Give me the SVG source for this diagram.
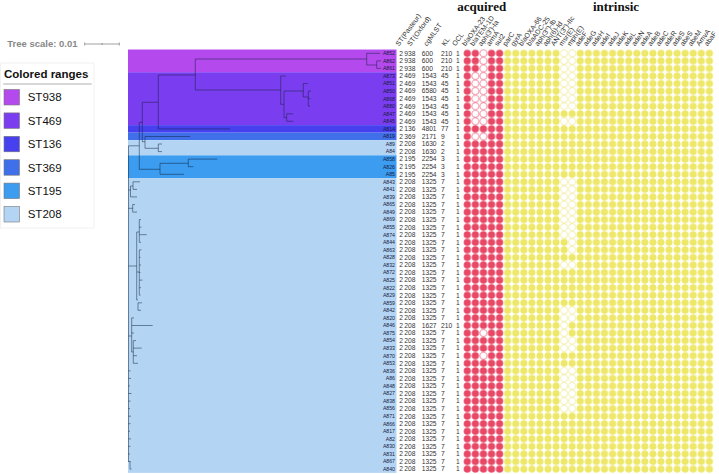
<svg xmlns="http://www.w3.org/2000/svg" width="719" height="474" viewBox="0 0 719 474">
<style>
text{font-family:"Liberation Sans",Arial,sans-serif}
.v{font-size:6.7px;fill:#333}
.lb{font-size:5.2px;fill:#1a1a40;text-anchor:end}
.hd{font-size:7px;fill:#333}
.grp{font-family:"Liberation Serif","Times New Roman",serif;font-weight:bold;font-size:13px;fill:#111;text-anchor:middle}
.tr{fill:none;stroke:#10203a;stroke-opacity:0.55;stroke-width:0.9}
.hr{fill:#fff;stroke:#f4a6b6;stroke-width:0.6}
.hy{fill:#fff;stroke:#f3f0c4;stroke-width:0.6}
.sw{stroke:#777;stroke-width:0.6}
.lt{font-size:11.5px;fill:#111}
</style>
<defs>
<pattern id="pr" x="463.265" y="49.52" width="8.07" height="7.56" patternUnits="userSpaceOnUse"><circle cx="4.035" cy="3.78" r="3.6" fill="#e84866"/></pattern>
<pattern id="py" x="503.615" y="49.52" width="8.07" height="7.56" patternUnits="userSpaceOnUse"><circle cx="4.035" cy="3.78" r="3.6" fill="#eee86a"/></pattern>
</defs>
<rect width="719" height="474" fill="#fff"/>

<g id="tree-scale">
<text x="7.3" y="47" font-size="9.5" font-weight="bold" fill="#888">Tree scale: 0.01</text>
<path d="M84.7,44H119.3M84.7,42.5V45.5M119.3,42.5V45.5M102,43V45" stroke="#888" stroke-width="0.8" fill="none"/>
</g>

<g id="legend">
<rect x="0.5" y="63" width="93.5" height="165" fill="#fff" stroke="#eee" stroke-width="0.8"/>
<text x="4" y="77.5" font-size="11.5" font-weight="bold" fill="#111">Colored ranges</text>
<line x1="3.3" y1="84" x2="91.7" y2="84" stroke="#999" stroke-width="0.8"/>
<rect class="sw" x="4" y="89.5" width="15.5" height="15.5" fill="#b449ee"/><text class="lt" x="27.7" y="101.3">ST938</text>
<rect class="sw" x="4" y="112.9" width="15.5" height="15.5" fill="#7a3ef0"/><text class="lt" x="27.7" y="124.7">ST469</text>
<rect class="sw" x="4" y="136.3" width="15.5" height="15.5" fill="#4640ee"/><text class="lt" x="27.7" y="148.1">ST136</text>
<rect class="sw" x="4" y="159.7" width="15.5" height="15.5" fill="#3f6fe9"/><text class="lt" x="27.7" y="171.5">ST369</text>
<rect class="sw" x="4" y="183.1" width="15.5" height="15.5" fill="#3b9cf0"/><text class="lt" x="27.7" y="194.9">ST195</text>
<rect class="sw" x="4" y="206.5" width="15.5" height="15.5" fill="#b3d5f3"/><text class="lt" x="27.7" y="218.3">ST208</text>
</g>

<g id="colored-ranges">
<rect x="128" y="49.52" width="268.5" height="22.68" fill="#b449ee"/>
<rect x="128" y="72.2" width="268.5" height="52.92" fill="#7a3ef0"/>
<rect x="128" y="125.12" width="268.5" height="7.56" fill="#4640ee"/>
<rect x="128" y="132.68" width="268.5" height="7.56" fill="#3f6fe9"/>
<rect x="128" y="140.24" width="268.5" height="15.12" fill="#b3d5f3"/>
<rect x="128" y="155.36" width="268.5" height="22.68" fill="#3b9cf0"/>
<rect x="128" y="178.04" width="268.5" height="294.84" fill="#b3d5f3"/>
</g>

<g id="connectors">
<path class="tr" d="M195.3,59H366.7M366.7,53.3V65M366.7,53.3H380M366.7,65H376.7M376.7,60.9V68.4M376.7,60.9H381M376.7,68.4H381
M195.3,59V90M158.3,75H195.3M195.3,90H280.7
M280.7,76V104.3M280.7,76H286M280.7,104.3H284M284,91V117.7M284,91H303.3M303.3,83.5V97M303.3,83.5H308M303.3,97H308.3M308.3,91.1V106.2M308.3,91.1H311M308.3,98.7H310.5M308.3,106.2H310M284,117.7H286.7M286.7,113.8V121.3M286.7,113.8H293.3M286.7,121.3H293.3
M158.3,75V128.9M158.3,128.9H230M142.3,102.3H158.3
M142.3,102.3V141.7M139.3,122.3H142.3M142.3,141.7H145M145,136.5V148.3M145,136.5H190M145,148.3H158.3M158.3,144V151.6M158.3,144H162M158.3,151.6H162
M139.3,122.3V169.3M139.3,169.3H160M160,163.3V174.3M160,163.3H188.3M188.3,159.1V166.7M188.3,159.1H217.3M188.3,166.7H193.3M160,174.3H184
M128.5,145.8H139.3M128.5,145.8V462
M128.5,190H130.5M130.5,186V196.9M130.5,186H133M133,181.8V189.4M133,181.8H140M133,189.4H137M130.5,196.9H137
M128.5,208.3H132.7M132.7,204.5V212.1M132.7,204.5H135M132.7,212.1H137
M128.5,266H136.7M136.7,232V300M136.7,232H139.3M139.3,219.6V242.3M139.3,219.6H141M139.3,227.2H141.5M139.3,234.7H146.7M139.3,242.3H141
M136.7,272H139.3M139.3,249.9V295.2M139.3,249.9H141.5M139.3,257.4H140.5M139.3,265H141M139.3,272.5H140.5M139.3,280.1H142.5M139.3,287.7H141M139.3,295.2H140.5
M136.7,300H138M138,302.8V310.3M138,302.8H142M138,310.3H141
M128.5,336H131.7M131.7,317.9V352M131.7,317.9H134M131.7,325.5H152.7M131.7,333H134M131.7,352H133.3M133.3,340.6V363.3M133.3,340.6H136M133.3,348.1H141.7M133.3,355.7H137M133.3,363.3H138
M128.5,370.8H130.5M128.5,378.4H131M128.5,385.9H130M128.5,393.5H131.5M128.5,401.1H130.5M128.5,408.6H130M128.5,416.2H131M128.5,423.7H130.5M128.5,431.3H130M128.5,438.9H131M128.5,446.4H130.5M128.5,454H130M128.5,461.5H131M130,462V469.1M130,469.1H131.5"/>
</g>

<g id="headers">
<text class="grp" x="481.7" y="10.5">acquired</text>
<text class="grp" x="616" y="10.5">intrinsic</text>
<text class="hd" transform="translate(399,46.5) rotate(-54)">ST(Pasteur)</text>
<text class="hd" transform="translate(410.5,46.5) rotate(-54)">ST(Oxford)</text>
<text class="hd" transform="translate(427,46.5) rotate(-54)">cgMLST</text>
<text class="hd" transform="translate(445,46.5) rotate(-54)">KL</text>
<text class="hd" transform="translate(455.5,46.5) rotate(-54)">OCL</text>
<text class="hd" transform="translate(465.5,46.5) rotate(-54)">blaOXA-23</text>
<text class="hd" transform="translate(473.6,46.5) rotate(-54)">blaTEM-1D</text>
<text class="hd" transform="translate(481.6,46.5) rotate(-54)">aph(3')-Ia</text>
<text class="hd" transform="translate(489.7,46.5) rotate(-54)">armA</text>
<text class="hd" transform="translate(497.8,46.5) rotate(-54)">sul2</text>
<text class="hd" transform="translate(505.9,46.5) rotate(-54)">parC</text>
<text class="hd" transform="translate(513.9,46.5) rotate(-54)">gyrA</text>
<text class="hd" transform="translate(522,46.5) rotate(-54)">blaOXA-66</text>
<text class="hd" transform="translate(530.1,46.5) rotate(-54)">blaADC-25</text>
<text class="hd" transform="translate(538.1,46.5) rotate(-54)">aph(3'')-Ib</text>
<text class="hd" transform="translate(546.2,46.5) rotate(-54)">aph(6)-Id</text>
<text class="hd" transform="translate(554.3,46.5) rotate(-54)">ANT(3'')-IIc</text>
<text class="hd" transform="translate(562.3,46.5) rotate(-54)">msr(E)</text>
<text class="hd" transform="translate(570.4,46.5) rotate(-54)">mph(E)</text>
<text class="hd" transform="translate(578.5,46.5) rotate(-54)">adeF</text>
<text class="hd" transform="translate(586.6,46.5) rotate(-54)">adeG</text>
<text class="hd" transform="translate(594.6,46.5) rotate(-54)">adeH</text>
<text class="hd" transform="translate(602.7,46.5) rotate(-54)">adeI</text>
<text class="hd" transform="translate(610.8,46.5) rotate(-54)">adeJ</text>
<text class="hd" transform="translate(618.8,46.5) rotate(-54)">adeK</text>
<text class="hd" transform="translate(626.9,46.5) rotate(-54)">adeL</text>
<text class="hd" transform="translate(635,46.5) rotate(-54)">adeN</text>
<text class="hd" transform="translate(643,46.5) rotate(-54)">adeA</text>
<text class="hd" transform="translate(651.1,46.5) rotate(-54)">adeB</text>
<text class="hd" transform="translate(659.2,46.5) rotate(-54)">adeC</text>
<text class="hd" transform="translate(667.2,46.5) rotate(-54)">adeR</text>
<text class="hd" transform="translate(675.3,46.5) rotate(-54)">adeS</text>
<text class="hd" transform="translate(683.4,46.5) rotate(-54)">abeS</text>
<text class="hd" transform="translate(691.5,46.5) rotate(-54)">abeM</text>
<text class="hd" transform="translate(699.5,46.5) rotate(-54)">AmvA</text>
<text class="hd" transform="translate(707.6,46.5) rotate(-54)">abaF</text>
</g>

<g id="leaf-labels">
<text class="lb" x="395" y="55.1">A852</text>
<text class="lb" x="395" y="62.7">A862</text>
<text class="lb" x="395" y="70.2">A861</text>
<text class="lb" x="395" y="77.8">A873</text>
<text class="lb" x="395" y="85.3">A851</text>
<text class="lb" x="395" y="92.9">A850</text>
<text class="lb" x="395" y="100.5">A868</text>
<text class="lb" x="395" y="108">A880</text>
<text class="lb" x="395" y="115.6">A847</text>
<text class="lb" x="395" y="123.1">A845</text>
<text class="lb" x="395" y="130.7">A814</text>
<text class="lb" x="395" y="138.3">A819</text>
<text class="lb" x="395" y="145.8">A89</text>
<text class="lb" x="395" y="153.4">A84</text>
<text class="lb" x="395" y="160.9">A858</text>
<text class="lb" x="395" y="168.5">A826</text>
<text class="lb" x="395" y="176.1">A85</text>
<text class="lb" x="395" y="183.6">A843</text>
<text class="lb" x="395" y="191.2">A841</text>
<text class="lb" x="395" y="198.7">A839</text>
<text class="lb" x="395" y="206.3">A865</text>
<text class="lb" x="395" y="213.9">A849</text>
<text class="lb" x="395" y="221.4">A869</text>
<text class="lb" x="395" y="229">A855</text>
<text class="lb" x="395" y="236.5">A874</text>
<text class="lb" x="395" y="244.1">A844</text>
<text class="lb" x="395" y="251.7">A863</text>
<text class="lb" x="395" y="259.2">A828</text>
<text class="lb" x="395" y="266.8">A832</text>
<text class="lb" x="395" y="274.3">A872</text>
<text class="lb" x="395" y="281.9">A825</text>
<text class="lb" x="395" y="289.5">A822</text>
<text class="lb" x="395" y="297">A829</text>
<text class="lb" x="395" y="304.6">A859</text>
<text class="lb" x="395" y="312.1">A842</text>
<text class="lb" x="395" y="319.7">A820</text>
<text class="lb" x="395" y="327.3">A846</text>
<text class="lb" x="395" y="334.8">A875</text>
<text class="lb" x="395" y="342.4">A854</text>
<text class="lb" x="395" y="349.9">A833</text>
<text class="lb" x="395" y="357.5">A870</text>
<text class="lb" x="395" y="365.1">A853</text>
<text class="lb" x="395" y="372.6">A836</text>
<text class="lb" x="395" y="380.2">A86</text>
<text class="lb" x="395" y="387.7">A848</text>
<text class="lb" x="395" y="395.3">A827</text>
<text class="lb" x="395" y="402.9">A838</text>
<text class="lb" x="395" y="410.4">A856</text>
<text class="lb" x="395" y="418">A871</text>
<text class="lb" x="395" y="425.5">A866</text>
<text class="lb" x="395" y="433.1">A817</text>
<text class="lb" x="395" y="440.7">A82</text>
<text class="lb" x="395" y="448.2">A830</text>
<text class="lb" x="395" y="455.8">A831</text>
<text class="lb" x="395" y="463.3">A867</text>
<text class="lb" x="395" y="470.9">A840</text>
</g>

<g id="metadata">
<text class="v" y="55.6"><tspan x="399.3">2</tspan><tspan x="404.3">938</tspan><tspan x="421.7">600</tspan><tspan x="441">210</tspan><tspan x="456">1</tspan></text>
<text class="v" y="63.2"><tspan x="399.3">2</tspan><tspan x="404.3">938</tspan><tspan x="421.7">600</tspan><tspan x="441">210</tspan><tspan x="456">1</tspan></text>
<text class="v" y="70.7"><tspan x="399.3">2</tspan><tspan x="404.3">938</tspan><tspan x="421.7">600</tspan><tspan x="441">210</tspan><tspan x="456">1</tspan></text>
<text class="v" y="78.3"><tspan x="399.3">2</tspan><tspan x="404.3">469</tspan><tspan x="421.7">1543</tspan><tspan x="441">45</tspan><tspan x="456">1</tspan></text>
<text class="v" y="85.8"><tspan x="399.3">2</tspan><tspan x="404.3">469</tspan><tspan x="421.7">1543</tspan><tspan x="441">45</tspan><tspan x="456">1</tspan></text>
<text class="v" y="93.4"><tspan x="399.3">2</tspan><tspan x="404.3">469</tspan><tspan x="421.7">6580</tspan><tspan x="441">45</tspan><tspan x="456">1</tspan></text>
<text class="v" y="101"><tspan x="399.3">2</tspan><tspan x="404.3">469</tspan><tspan x="421.7">1543</tspan><tspan x="441">45</tspan><tspan x="456">1</tspan></text>
<text class="v" y="108.5"><tspan x="399.3">2</tspan><tspan x="404.3">469</tspan><tspan x="421.7">1543</tspan><tspan x="441">45</tspan><tspan x="456">1</tspan></text>
<text class="v" y="116.1"><tspan x="399.3">2</tspan><tspan x="404.3">469</tspan><tspan x="421.7">1543</tspan><tspan x="441">45</tspan><tspan x="456">1</tspan></text>
<text class="v" y="123.6"><tspan x="399.3">2</tspan><tspan x="404.3">469</tspan><tspan x="421.7">1543</tspan><tspan x="441">45</tspan><tspan x="456">1</tspan></text>
<text class="v" y="131.2"><tspan x="399.3">2</tspan><tspan x="404.3">136</tspan><tspan x="421.7">4801</tspan><tspan x="441">77</tspan><tspan x="456">1</tspan></text>
<text class="v" y="138.8"><tspan x="399.3">2</tspan><tspan x="404.3">369</tspan><tspan x="421.7">2171</tspan><tspan x="441">9</tspan><tspan x="456">1</tspan></text>
<text class="v" y="146.3"><tspan x="399.3">2</tspan><tspan x="404.3">208</tspan><tspan x="421.7">1630</tspan><tspan x="441">2</tspan><tspan x="456">1</tspan></text>
<text class="v" y="153.9"><tspan x="399.3">2</tspan><tspan x="404.3">208</tspan><tspan x="421.7">1630</tspan><tspan x="441">2</tspan><tspan x="456">1</tspan></text>
<text class="v" y="161.4"><tspan x="399.3">2</tspan><tspan x="404.3">195</tspan><tspan x="421.7">2254</tspan><tspan x="441">3</tspan><tspan x="456">1</tspan></text>
<text class="v" y="169"><tspan x="399.3">2</tspan><tspan x="404.3">195</tspan><tspan x="421.7">2254</tspan><tspan x="441">3</tspan><tspan x="456">1</tspan></text>
<text class="v" y="176.6"><tspan x="399.3">2</tspan><tspan x="404.3">195</tspan><tspan x="421.7">2254</tspan><tspan x="441">3</tspan><tspan x="456">1</tspan></text>
<text class="v" y="184.1"><tspan x="399.3">2</tspan><tspan x="404.3">208</tspan><tspan x="421.7">1325</tspan><tspan x="441">7</tspan><tspan x="456">1</tspan></text>
<text class="v" y="191.7"><tspan x="399.3">2</tspan><tspan x="404.3">208</tspan><tspan x="421.7">1325</tspan><tspan x="441">7</tspan><tspan x="456">1</tspan></text>
<text class="v" y="199.2"><tspan x="399.3">2</tspan><tspan x="404.3">208</tspan><tspan x="421.7">1325</tspan><tspan x="441">7</tspan><tspan x="456">1</tspan></text>
<text class="v" y="206.8"><tspan x="399.3">2</tspan><tspan x="404.3">208</tspan><tspan x="421.7">1325</tspan><tspan x="441">7</tspan><tspan x="456">1</tspan></text>
<text class="v" y="214.4"><tspan x="399.3">2</tspan><tspan x="404.3">208</tspan><tspan x="421.7">1325</tspan><tspan x="441">7</tspan><tspan x="456">1</tspan></text>
<text class="v" y="221.9"><tspan x="399.3">2</tspan><tspan x="404.3">208</tspan><tspan x="421.7">1325</tspan><tspan x="441">7</tspan><tspan x="456">1</tspan></text>
<text class="v" y="229.5"><tspan x="399.3">2</tspan><tspan x="404.3">208</tspan><tspan x="421.7">1325</tspan><tspan x="441">7</tspan><tspan x="456">1</tspan></text>
<text class="v" y="237"><tspan x="399.3">2</tspan><tspan x="404.3">208</tspan><tspan x="421.7">1325</tspan><tspan x="441">7</tspan><tspan x="456">1</tspan></text>
<text class="v" y="244.6"><tspan x="399.3">2</tspan><tspan x="404.3">208</tspan><tspan x="421.7">1325</tspan><tspan x="441">7</tspan><tspan x="456">1</tspan></text>
<text class="v" y="252.2"><tspan x="399.3">2</tspan><tspan x="404.3">208</tspan><tspan x="421.7">1325</tspan><tspan x="441">7</tspan><tspan x="456">1</tspan></text>
<text class="v" y="259.7"><tspan x="399.3">2</tspan><tspan x="404.3">208</tspan><tspan x="421.7">1325</tspan><tspan x="441">7</tspan><tspan x="456">1</tspan></text>
<text class="v" y="267.3"><tspan x="399.3">2</tspan><tspan x="404.3">208</tspan><tspan x="421.7">1325</tspan><tspan x="441">7</tspan><tspan x="456">1</tspan></text>
<text class="v" y="274.8"><tspan x="399.3">2</tspan><tspan x="404.3">208</tspan><tspan x="421.7">1325</tspan><tspan x="441">7</tspan><tspan x="456">1</tspan></text>
<text class="v" y="282.4"><tspan x="399.3">2</tspan><tspan x="404.3">208</tspan><tspan x="421.7">1325</tspan><tspan x="441">7</tspan><tspan x="456">1</tspan></text>
<text class="v" y="290"><tspan x="399.3">2</tspan><tspan x="404.3">208</tspan><tspan x="421.7">1325</tspan><tspan x="441">7</tspan><tspan x="456">1</tspan></text>
<text class="v" y="297.5"><tspan x="399.3">2</tspan><tspan x="404.3">208</tspan><tspan x="421.7">1325</tspan><tspan x="441">7</tspan><tspan x="456">1</tspan></text>
<text class="v" y="305.1"><tspan x="399.3">2</tspan><tspan x="404.3">208</tspan><tspan x="421.7">1325</tspan><tspan x="441">7</tspan><tspan x="456">1</tspan></text>
<text class="v" y="312.6"><tspan x="399.3">2</tspan><tspan x="404.3">208</tspan><tspan x="421.7">1325</tspan><tspan x="441">7</tspan><tspan x="456">1</tspan></text>
<text class="v" y="320.2"><tspan x="399.3">2</tspan><tspan x="404.3">208</tspan><tspan x="421.7">1325</tspan><tspan x="441">7</tspan><tspan x="456">1</tspan></text>
<text class="v" y="327.8"><tspan x="399.3">2</tspan><tspan x="404.3">208</tspan><tspan x="421.7">1627</tspan><tspan x="441">210</tspan><tspan x="456">1</tspan></text>
<text class="v" y="335.3"><tspan x="399.3">2</tspan><tspan x="404.3">208</tspan><tspan x="421.7">1325</tspan><tspan x="441">7</tspan><tspan x="456">1</tspan></text>
<text class="v" y="342.9"><tspan x="399.3">2</tspan><tspan x="404.3">208</tspan><tspan x="421.7">1325</tspan><tspan x="441">7</tspan><tspan x="456">1</tspan></text>
<text class="v" y="350.4"><tspan x="399.3">2</tspan><tspan x="404.3">208</tspan><tspan x="421.7">1325</tspan><tspan x="441">7</tspan><tspan x="456">1</tspan></text>
<text class="v" y="358"><tspan x="399.3">2</tspan><tspan x="404.3">208</tspan><tspan x="421.7">1325</tspan><tspan x="441">7</tspan><tspan x="456">1</tspan></text>
<text class="v" y="365.6"><tspan x="399.3">2</tspan><tspan x="404.3">208</tspan><tspan x="421.7">1325</tspan><tspan x="441">7</tspan><tspan x="456">1</tspan></text>
<text class="v" y="373.1"><tspan x="399.3">2</tspan><tspan x="404.3">208</tspan><tspan x="421.7">1325</tspan><tspan x="441">7</tspan><tspan x="456">1</tspan></text>
<text class="v" y="380.7"><tspan x="399.3">2</tspan><tspan x="404.3">208</tspan><tspan x="421.7">1325</tspan><tspan x="441">7</tspan><tspan x="456">1</tspan></text>
<text class="v" y="388.2"><tspan x="399.3">2</tspan><tspan x="404.3">208</tspan><tspan x="421.7">1325</tspan><tspan x="441">7</tspan><tspan x="456">1</tspan></text>
<text class="v" y="395.8"><tspan x="399.3">2</tspan><tspan x="404.3">208</tspan><tspan x="421.7">1325</tspan><tspan x="441">7</tspan><tspan x="456">1</tspan></text>
<text class="v" y="403.4"><tspan x="399.3">2</tspan><tspan x="404.3">208</tspan><tspan x="421.7">1325</tspan><tspan x="441">7</tspan><tspan x="456">1</tspan></text>
<text class="v" y="410.9"><tspan x="399.3">2</tspan><tspan x="404.3">208</tspan><tspan x="421.7">1325</tspan><tspan x="441">7</tspan><tspan x="456">1</tspan></text>
<text class="v" y="418.5"><tspan x="399.3">2</tspan><tspan x="404.3">208</tspan><tspan x="421.7">1325</tspan><tspan x="441">7</tspan><tspan x="456">1</tspan></text>
<text class="v" y="426"><tspan x="399.3">2</tspan><tspan x="404.3">208</tspan><tspan x="421.7">1325</tspan><tspan x="441">7</tspan><tspan x="456">1</tspan></text>
<text class="v" y="433.6"><tspan x="399.3">2</tspan><tspan x="404.3">208</tspan><tspan x="421.7">1325</tspan><tspan x="441">7</tspan><tspan x="456">1</tspan></text>
<text class="v" y="441.2"><tspan x="399.3">2</tspan><tspan x="404.3">208</tspan><tspan x="421.7">1325</tspan><tspan x="441">7</tspan><tspan x="456">1</tspan></text>
<text class="v" y="448.7"><tspan x="399.3">2</tspan><tspan x="404.3">208</tspan><tspan x="421.7">1325</tspan><tspan x="441">7</tspan><tspan x="456">1</tspan></text>
<text class="v" y="456.3"><tspan x="399.3">2</tspan><tspan x="404.3">208</tspan><tspan x="421.7">1325</tspan><tspan x="441">7</tspan><tspan x="456">1</tspan></text>
<text class="v" y="463.8"><tspan x="399.3">2</tspan><tspan x="404.3">208</tspan><tspan x="421.7">1325</tspan><tspan x="441">7</tspan><tspan x="456">1</tspan></text>
<text class="v" y="471.4"><tspan x="399.3">2</tspan><tspan x="404.3">208</tspan><tspan x="421.7">1325</tspan><tspan x="441">7</tspan><tspan x="456">1</tspan></text>
</g>

<g id="heatmap">
<rect x="463.265" y="49.52" width="40.35" height="423.36" fill="url(#pr)"/>
<rect x="503.615" y="49.52" width="209.82" height="423.36" fill="url(#py)"/>
<g class="hr">
<circle cx="483.44" cy="53.3" r="3.3"/><circle cx="483.44" cy="60.86" r="3.3"/><circle cx="483.44" cy="68.42" r="3.3"/>
<circle cx="475.37" cy="75.98" r="3.3"/><circle cx="483.44" cy="75.98" r="3.3"/>
<circle cx="475.37" cy="83.54" r="3.3"/><circle cx="483.44" cy="83.54" r="3.3"/>
<circle cx="475.37" cy="91.1" r="3.3"/><circle cx="483.44" cy="91.1" r="3.3"/>
<circle cx="475.37" cy="98.66" r="3.3"/><circle cx="483.44" cy="98.66" r="3.3"/>
<circle cx="475.37" cy="106.22" r="3.3"/><circle cx="483.44" cy="106.22" r="3.3"/>
<circle cx="475.37" cy="113.78" r="3.3"/><circle cx="483.44" cy="113.78" r="3.3"/>
<circle cx="475.37" cy="121.34" r="3.3"/><circle cx="483.44" cy="121.34" r="3.3"/>
<circle cx="475.37" cy="136.46" r="3.3"/><circle cx="483.44" cy="136.46" r="3.3"/>
<circle cx="483.44" cy="333.02" r="3.3"/><circle cx="483.44" cy="355.7" r="3.3"/>
</g>
<g class="hy">
<circle cx="564.14" cy="53.3" r="3.3"/><circle cx="572.21" cy="53.3" r="3.3"/>
<circle cx="564.14" cy="60.86" r="3.3"/><circle cx="572.21" cy="60.86" r="3.3"/>
<circle cx="564.14" cy="68.42" r="3.3"/><circle cx="572.21" cy="68.42" r="3.3"/>
<circle cx="564.14" cy="75.98" r="3.3"/><circle cx="572.21" cy="75.98" r="3.3"/>
<circle cx="564.14" cy="83.54" r="3.3"/><circle cx="572.21" cy="83.54" r="3.3"/>
<circle cx="564.14" cy="91.1" r="3.3"/><circle cx="572.21" cy="91.1" r="3.3"/>
<circle cx="564.14" cy="98.66" r="3.3"/><circle cx="572.21" cy="98.66" r="3.3"/>
<circle cx="564.14" cy="106.22" r="3.3"/><circle cx="572.21" cy="106.22" r="3.3"/>
<circle cx="564.14" cy="121.34" r="3.3"/><circle cx="572.21" cy="121.34" r="3.3"/>
<circle cx="564.14" cy="181.82" r="3.3"/><circle cx="572.21" cy="181.82" r="3.3"/>
<circle cx="564.14" cy="189.38" r="3.3"/><circle cx="572.21" cy="189.38" r="3.3"/>
<circle cx="564.14" cy="196.94" r="3.3"/><circle cx="572.21" cy="196.94" r="3.3"/>
<circle cx="564.14" cy="204.5" r="3.3"/><circle cx="572.21" cy="204.5" r="3.3"/>
<circle cx="564.14" cy="212.06" r="3.3"/><circle cx="572.21" cy="212.06" r="3.3"/>
<circle cx="564.14" cy="219.62" r="3.3"/><circle cx="572.21" cy="219.62" r="3.3"/>
<circle cx="564.14" cy="227.18" r="3.3"/><circle cx="572.21" cy="227.18" r="3.3"/>
<circle cx="564.14" cy="234.74" r="3.3"/><circle cx="572.21" cy="234.74" r="3.3"/>
<circle cx="572.21" cy="242.3" r="3.3"/><circle cx="572.21" cy="249.86" r="3.3"/>
<circle cx="564.14" cy="264.98" r="3.3"/><circle cx="572.21" cy="264.98" r="3.3"/>
<circle cx="564.14" cy="310.34" r="3.3"/><circle cx="572.21" cy="310.34" r="3.3"/>
<circle cx="564.14" cy="317.9" r="3.3"/><circle cx="572.21" cy="317.9" r="3.3"/>
<circle cx="564.14" cy="325.46" r="3.3"/><circle cx="564.14" cy="333.02" r="3.3"/>
<circle cx="564.14" cy="340.58" r="3.3"/><circle cx="572.21" cy="340.58" r="3.3"/>
<circle cx="564.14" cy="348.14" r="3.3"/><circle cx="572.21" cy="348.14" r="3.3"/>
<circle cx="564.14" cy="370.82" r="3.3"/><circle cx="572.21" cy="370.82" r="3.3"/>
<circle cx="564.14" cy="378.38" r="3.3"/><circle cx="572.21" cy="378.38" r="3.3"/>
<circle cx="564.14" cy="385.94" r="3.3"/><circle cx="572.21" cy="385.94" r="3.3"/>
<circle cx="564.14" cy="393.5" r="3.3"/><circle cx="572.21" cy="393.5" r="3.3"/>
<circle cx="564.14" cy="401.06" r="3.3"/><circle cx="572.21" cy="401.06" r="3.3"/>
<circle cx="564.14" cy="408.62" r="3.3"/><circle cx="572.21" cy="408.62" r="3.3"/>
</g>
</g>
</svg>
